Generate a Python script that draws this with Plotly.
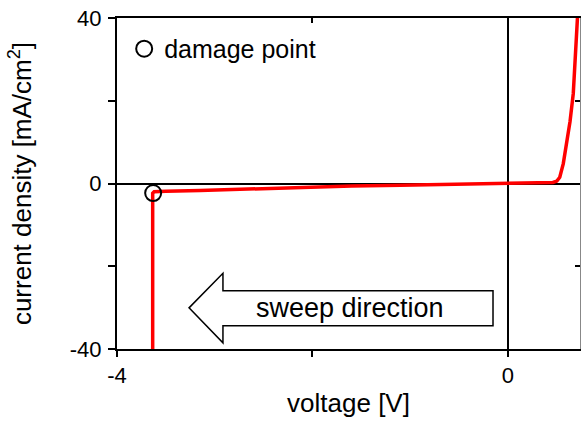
import plotly.graph_objects as go

# I-V sweep
voltage = [-3.635, -3.635, -3.62, -3.5, -3.15, -2.6, -2.13, -1.6, -1.1, -0.6, -0.08,
           0.2, 0.4, 0.46, 0.5, 0.53, 0.566, 0.6, 0.635, 0.668, 0.69, 0.71, 0.725]
current = [-45, -2.35, -2.0, -1.85, -1.7, -1.25, -0.9, -0.6, -0.4, -0.25, -0.1,
           0.0, 0.1, 0.25, 0.6, 1.5, 4.8, 9.6, 15.0, 21.7, 30.0, 40.0, 46.0]

damage_v = [-3.63]
damage_j = [-2.3]

x_major = [-4, 0]
x_major_text = ["-4", "0"]
x_minor = [-2]
y_major = [-40, 0, 40]
y_major_text = ["-40", "0", "40"]
y_minor = [-20, 20]

FONT = "Arial, Liberation Sans, sans-serif"
x_range = [-4, 0.737]
y_range = [-40, 40]

fig = go.Figure()
fig.add_trace(go.Scatter(x=voltage, y=current, mode="lines",
                         line=dict(color="#ff0000", width=3.5),
                         showlegend=False, hoverinfo="skip"))
fig.add_trace(go.Scatter(x=damage_v, y=damage_j, mode="markers", name="damage point",
                         marker=dict(symbol="circle-open", size=16, color="black",
                                     line=dict(width=2, color="black"))))
# dummy trace for mirrored inner-tick axes
fig.add_trace(go.Scatter(x=[None], y=[None], xaxis="x2", yaxis="y2", showlegend=False))

fig.add_shape(type="path",
              path="M -0.153,-25.9 L -2.916,-25.9 L -2.916,-21.7 L -3.263,-30.06 "
                   "L -2.916,-38.5 L -2.916,-34.4 L -0.153,-34.4 Z",
              xref="x", yref="y", line=dict(color="black", width=1.5),
              fillcolor="white", layer="above")
fig.add_annotation(x=-1.616, y=-30.1, xref="x", yref="y", text="sweep direction",
                   showarrow=False, font=dict(family=FONT, size=27, color="black"))

tick_common = dict(ticks="outside", tickwidth=2, tickcolor="black")

fig.update_layout(
    width=581, height=423,
    margin=dict(l=117, r=1, t=18, b=74),
    paper_bgcolor="white", plot_bgcolor="white",
    font=dict(family=FONT, color="black", size=22),
    showlegend=True,
    legend=dict(x=0.0155, y=0.976, xanchor="left", yanchor="top",
                bgcolor="rgba(0,0,0,0)", font=dict(family=FONT, size=25),
                itemwidth=30),
    xaxis=dict(range=x_range, tickvals=x_major, ticktext=x_major_text, ticklen=6, **tick_common,
               minor=dict(tickvals=x_minor, ticklen=6, **tick_common, showgrid=False),
               showline=True, linecolor="black", linewidth=2, automargin=False,
               ticklabeloverflow="allow",
               showgrid=False, zeroline=True, zerolinecolor="black", zerolinewidth=2,
               title=dict(text="voltage [V]", font=dict(size=26), standoff=6),
               tickfont=dict(size=22)),
    yaxis=dict(range=y_range, tickvals=y_major, ticktext=y_major_text, ticklen=7, **tick_common,
               minor=dict(tickvals=y_minor, ticklen=7, **tick_common, showgrid=False),
               showline=True, linecolor="black", linewidth=2, automargin=False,
               ticklabeloverflow="allow",
               showgrid=False, zeroline=True, zerolinecolor="black", zerolinewidth=2,
               ticklabelstandoff=2,
               title=dict(text="current density [mA/cm<sup>2</sup>]", font=dict(size=26),
                          standoff=31),
               tickfont=dict(size=22)),
    xaxis2=dict(range=x_range, overlaying="x", side="top", anchor="y", automargin=False,
                tickvals=x_major + x_minor, ticks="inside", ticklen=5, tickwidth=2,
                tickcolor="black", showticklabels=False, showline=True,
                linecolor="black", linewidth=2, showgrid=False, zeroline=False),
    yaxis2=dict(range=y_range, overlaying="y", side="right", anchor="x", automargin=False,
                tickvals=y_major + y_minor, ticks="inside", ticklen=5, tickwidth=2,
                tickcolor="black", showticklabels=False, showline=True,
                linecolor="#888888", linewidth=1, showgrid=False, zeroline=False),
)

fig.write_html("out.html", config={"displayModeBar": False},
               post_script="document.body.style.margin='0';document.body.style.overflow='hidden';")
